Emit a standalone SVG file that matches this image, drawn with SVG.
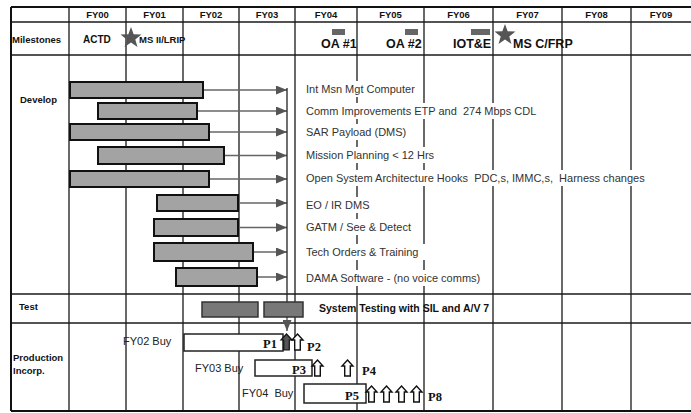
<svg xmlns="http://www.w3.org/2000/svg" width="691" height="413" viewBox="0 0 691 413">
<defs>
<style>
.grid{stroke:#1a1a1a;stroke-width:1.3;fill:none}
.border{stroke:#111;stroke-width:2;fill:none}
.hdr{font-family:"Liberation Sans",Arial,sans-serif;font-weight:bold;font-size:9.5px;fill:#111;text-anchor:middle}
.lbl{font-family:"Liberation Sans",Arial,sans-serif;font-weight:bold;font-size:9.5px;fill:#111}
.ms{font-family:"Liberation Sans",Arial,sans-serif;font-weight:bold;font-size:12.5px;fill:#111}
.dev{font-family:"Liberation Sans",Arial,sans-serif;font-size:11px;fill:#333;white-space:pre}
.txt{font-family:"Liberation Sans",Arial,sans-serif;font-size:11px;fill:#222;white-space:pre}
.pl{font-family:"Liberation Serif","Times New Roman",serif;font-weight:bold;font-size:12.5px;fill:#111}
.bar{fill:#a3a3a3;stroke:#111;stroke-width:2}
.tbar{fill:#787878;stroke:#333;stroke-width:1.5}
.box{fill:#fff;stroke:#222;stroke-width:1.5}
.arr{stroke:#666;stroke-width:1.5;fill:none}
.ua{fill:#fff;stroke:#111;stroke-width:1.4}
.bg{fill:#fff}
</style>
<marker id="ah" markerWidth="12" markerHeight="9" refX="11" refY="4.5" orient="auto" markerUnits="userSpaceOnUse">
<path d="M0,0 L11,4.5 L0,9 Z" fill="#555"/>
</marker>
<path id="uparr" d="M5.5,0 L11,6 L8.3,6 L8.3,16 L2.7,16 L2.7,6 L0,6 Z"/>
<polygon id="star" points="0,-11 2.65,-3.64 10.46,-3.4 4.28,1.39 6.47,8.9 0,4.5 -6.47,8.9 -4.28,1.39 -10.46,-3.4 -2.65,-3.64" fill="#555"/>
</defs>
<rect width="691" height="413" fill="#fff"/>

<g id="grid">
<line class="grid" x1="69" y1="7" x2="69" y2="411"/>
<line class="grid" x1="126" y1="7" x2="126" y2="411"/>
<line class="grid" x1="183" y1="7" x2="183" y2="411"/>
<line class="grid" x1="239" y1="7" x2="239" y2="411"/>
<line class="grid" x1="295" y1="7" x2="295" y2="411"/>
<line class="grid" x1="357" y1="7" x2="357" y2="411"/>
<line class="grid" x1="424" y1="7" x2="424" y2="411"/>
<line class="grid" x1="493" y1="7" x2="493" y2="411"/>
<line class="grid" x1="562" y1="7" x2="562" y2="411"/>
<line class="grid" x1="631" y1="7" x2="631" y2="411"/>
<line class="grid" x1="11" y1="22" x2="691" y2="22"/>
<line class="grid" x1="11" y1="55" x2="691" y2="55"/>
<line class="grid" x1="11" y1="294" x2="691" y2="294"/>
<line class="grid" x1="11" y1="323" x2="691" y2="323"/>
<line class="border" x1="11" y1="7" x2="691" y2="7"/>
<line class="border" x1="11" y1="411" x2="691" y2="411"/>
<line class="border" x1="11" y1="7" x2="11" y2="411"/>
</g>

<g id="header">
<text class="hdr" x="97.5" y="18">FY00</text>
<text class="hdr" x="154.5" y="18">FY01</text>
<text class="hdr" x="211" y="18">FY02</text>
<text class="hdr" x="267" y="18">FY03</text>
<text class="hdr" x="326" y="18">FY04</text>
<text class="hdr" x="390.5" y="18">FY05</text>
<text class="hdr" x="458.5" y="18">FY06</text>
<text class="hdr" x="527.5" y="18">FY07</text>
<text class="hdr" x="596.5" y="18">FY08</text>
<text class="hdr" x="661" y="18">FY09</text>
</g>

<g id="row-labels">
<text class="lbl" x="12" y="43">Milestones</text>
<text class="lbl" x="20" y="103">Develop</text>
<text class="lbl" x="19" y="310">Test</text>
<text class="lbl" x="13" y="361">Production</text>
<text class="lbl" x="13" y="374">Incorp.</text>
</g>

<g id="milestones">
<text class="lbl" x="83" y="43" style="font-size:10px">ACTD</text>
<use href="#star" x="131" y="38"/>
<text class="lbl" x="139" y="43" style="font-size:9.5px">MS II/LRIP</text>
<rect x="332" y="29" width="13" height="6" fill="#666"/>
<text class="ms" x="321" y="48">OA #1</text>
<rect x="405" y="29" width="13" height="6" fill="#666"/>
<text class="ms" x="386" y="48">OA #2</text>
<rect x="471" y="29" width="19" height="6" fill="#666"/>
<text class="ms" x="453" y="48">IOT&amp;E</text>
<use href="#star" x="505" y="35"/>
<text class="ms" x="513" y="48">MS C/FRP</text>
</g>

<g id="connectors">
<line class="arr" x1="203" y1="90" x2="287" y2="90" marker-end="url(#ah)"/>
<line class="arr" x1="197" y1="111" x2="287" y2="111" marker-end="url(#ah)"/>
<line class="arr" x1="209" y1="132" x2="287" y2="132" marker-end="url(#ah)"/>
<line class="arr" x1="224" y1="155.5" x2="287" y2="155.5" marker-end="url(#ah)"/>
<line class="arr" x1="209" y1="179" x2="287" y2="179" marker-end="url(#ah)"/>
<line class="arr" x1="238" y1="203" x2="287" y2="203" marker-end="url(#ah)"/>
<line class="arr" x1="238" y1="227.5" x2="287" y2="227.5" marker-end="url(#ah)"/>
<line class="arr" x1="253" y1="252" x2="287" y2="252" marker-end="url(#ah)"/>
<line class="arr" x1="257" y1="277" x2="287" y2="277" marker-end="url(#ah)"/>
<line x1="287" y1="88" x2="287" y2="318" stroke="#222" stroke-width="1.3"/>
<line class="arr" x1="287" y1="316" x2="287" y2="331" marker-end="url(#ah)"/>
</g>

<g id="develop-bars">
<rect class="bar" x="70" y="82" width="133" height="16"/>
<rect class="bar" x="98" y="103" width="99" height="16"/>
<rect class="bar" x="70" y="124" width="139" height="16"/>
<rect class="bar" x="98" y="147" width="126" height="17"/>
<rect class="bar" x="70" y="171" width="139" height="16"/>
<rect class="bar" x="157" y="195" width="81" height="16"/>
<rect class="bar" x="154" y="219" width="84" height="17"/>
<rect class="bar" x="154" y="243" width="99" height="18"/>
<rect class="bar" x="176" y="268" width="81" height="18"/>
</g>

<g id="develop-items">
<rect class="bg" x="302" y="81" width="120" height="16"/>
<text class="dev" x="306" y="93">Int Msn Mgt Computer</text>
<rect class="bg" x="302" y="103" width="240" height="16"/>
<text class="dev" x="306" y="115">Comm Improvements ETP and  274 Mbps CDL</text>
<rect class="bg" x="302" y="124" width="106" height="16"/>
<text class="dev" x="306" y="136">SAR Payload (DMS)</text>
<rect class="bg" x="302" y="147" width="139" height="16"/>
<text class="dev" x="306" y="159">Mission Planning &lt; 12 Hrs</text>
<rect class="bg" x="302" y="170" width="354" height="16"/>
<text class="dev" x="306" y="182">Open System Architecture Hooks  PDC,s, IMMC,s,  Harness changes</text>
<rect class="bg" x="302" y="197" width="68" height="16"/>
<text class="dev" x="306" y="209">EO / IR DMS</text>
<rect class="bg" x="302" y="219" width="111" height="16"/>
<text class="dev" x="306" y="231">GATM / See &amp; Detect</text>
<rect class="bg" x="302" y="244" width="125" height="16"/>
<text class="dev" x="306" y="256">Tech Orders &amp; Training</text>
<rect class="bg" x="302" y="270" width="186" height="16"/>
<text class="dev" x="306" y="282">DAMA Software - (no voice comms)</text>
</g>

<g id="test">
<rect class="tbar" x="202" y="302" width="56" height="15"/>
<rect class="tbar" x="264" y="302" width="39" height="15"/>
<text class="lbl" x="319" y="312" style="font-size:10.5px">System Testing with SIL and A/V 7</text>
</g>

<g id="production">
<text class="txt" x="123" y="345">FY02 Buy</text>
<rect class="box" x="184" y="334" width="99" height="17"/>
<text class="pl" x="263" y="348">P1</text>
<use href="#uparr" x="281" y="334" fill="#555" stroke="#111" stroke-width="1.2"/>
<use href="#uparr" x="292" y="334" class="ua"/>
<text class="pl" x="307" y="351">P2</text>

<text class="txt" x="195" y="372">FY03 Buy</text>
<rect class="box" x="255" y="360" width="57" height="16"/>
<text class="pl" x="292" y="374">P3</text>
<use href="#uparr" x="312" y="360" class="ua"/>
<use href="#uparr" x="342" y="360" class="ua"/>
<text class="pl" x="362" y="375">P4</text>

<text class="txt" x="242" y="397">FY04  Buy</text>
<rect class="box" x="304" y="384" width="62" height="19"/>
<text class="pl" x="345" y="400">P5</text>
<use href="#uparr" x="366" y="386" class="ua"/>
<use href="#uparr" x="381" y="386" class="ua"/>
<use href="#uparr" x="396" y="386" class="ua"/>
<use href="#uparr" x="411" y="386" class="ua"/>
<text class="pl" x="428" y="401">P8</text>
</g>
</svg>
